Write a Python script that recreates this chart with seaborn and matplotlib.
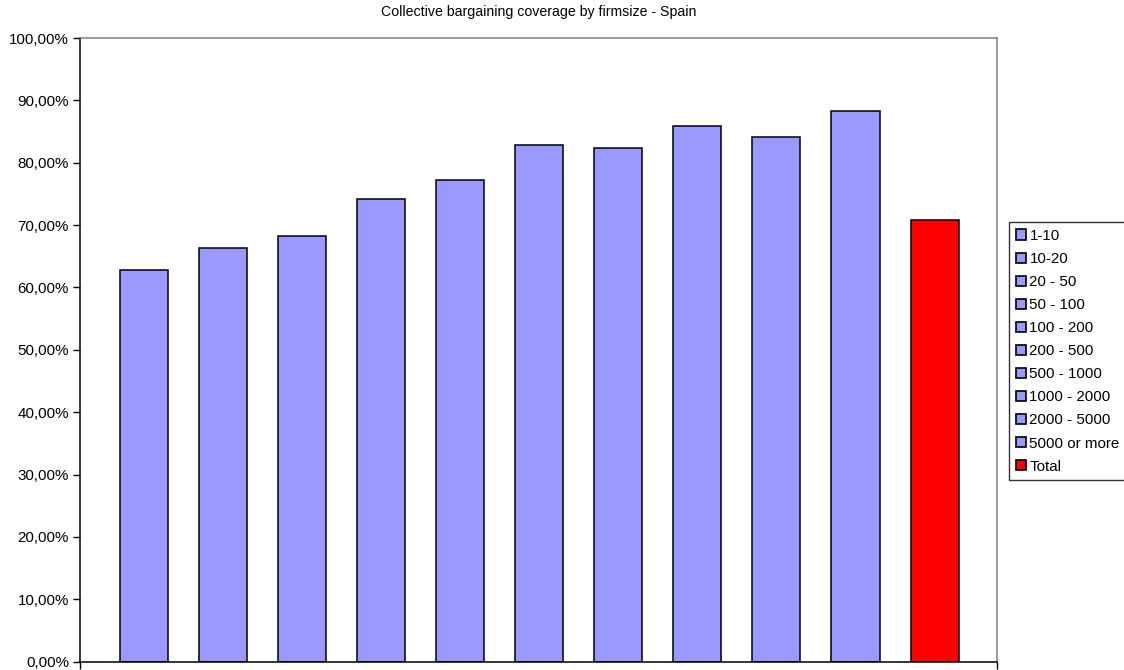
import matplotlib
matplotlib.use("Agg")
import matplotlib.pyplot as plt
from matplotlib.patches import Patch
from matplotlib.ticker import FuncFormatter
import seaborn as sns
import pandas as pd

# Firm-size classes and their collective bargaining coverage (%)
firm_sizes = ["1-10", "10-20", "20 - 50", "50 - 100", "100 - 200", "200 - 500",
              "500 - 1000", "1000 - 2000", "2000 - 5000", "5000 or more", "Total"]
coverage = [62.83, 66.25, 68.24, 74.22, 77.22, 82.83, 82.36, 85.93, 84.17, 88.29, 70.8]
bar_colors = ["#9999FF"] * 10 + ["#FF0000"]

title = "Collective bargaining coverage by firmsize - Spain"

df = pd.DataFrame({"size": firm_sizes, "coverage": coverage})

sns.set_style("white")
plt.rcParams["font.family"] = ["Liberation Sans", "DejaVu Sans"]
plt.rcParams["text.color"] = "black"
plt.rcParams["xtick.labelcolor"] = "black"
plt.rcParams["ytick.labelcolor"] = "black"

fig = plt.figure(figsize=(11.24, 6.70), dpi=100)
ax = fig.add_axes([80 / 1124, 1 - 661.7 / 670, (997 - 80) / 1124, (661.7 - 38) / 670])

palette = dict(zip(firm_sizes, bar_colors))
sns.barplot(data=df, x="size", y="coverage", hue="size", palette=palette,
            dodge=False, width=0.608, edgecolor="black", linewidth=1.1,
            saturation=1, legend=False, ax=ax)

ax.set_ylim(0, 100)
ax.set_xlim(-0.81, 10.79)
ax.set_yticks(range(0, 101, 10))
ax.yaxis.set_major_formatter(FuncFormatter(lambda v, p: f"{v:.2f}%".replace(".", ",")))
ax.set_xticks([-0.81, 10.79])
ax.set_xticklabels([])
ax.set_xlabel("")
ax.set_ylabel("")
ax.tick_params(axis="y", direction="out", length=5, width=1, color="black",
               labelsize=10.9, labelcolor="black", pad=3, left=True)
ax.tick_params(axis="x", direction="out", length=5, width=1, color="black", bottom=True)

for side in ["left", "bottom"]:
    ax.spines[side].set_color("black")
    ax.spines[side].set_linewidth(1.1)
for side in ["top", "right"]:
    ax.spines[side].set_visible(True)
    ax.spines[side].set_color("#808080")
    ax.spines[side].set_linewidth(1.1)

fig.text(0.5 * (80 + 997) / 1124, 1 - 12 / 670, title, ha="center", va="center",
         fontsize=10.2, color="black")

handles = [Patch(facecolor=c, edgecolor="black", linewidth=1.2) for c in bar_colors]
leg = fig.legend(handles, firm_sizes, loc="upper left",
                 bbox_to_anchor=(1009 / 1124, 1 - 222 / 670),
                 fontsize=10.9, frameon=True, fancybox=False, shadow=False,
                 handlelength=0.65, handleheight=0.65, handletextpad=0.25,
                 labelspacing=0.6, borderpad=0.45, borderaxespad=0)
leg.get_frame().set_edgecolor("black")
leg.get_frame().set_linewidth(1)
for t in leg.get_texts():
    t.set_color("black")

fig.savefig("out.png", dpi=100)
